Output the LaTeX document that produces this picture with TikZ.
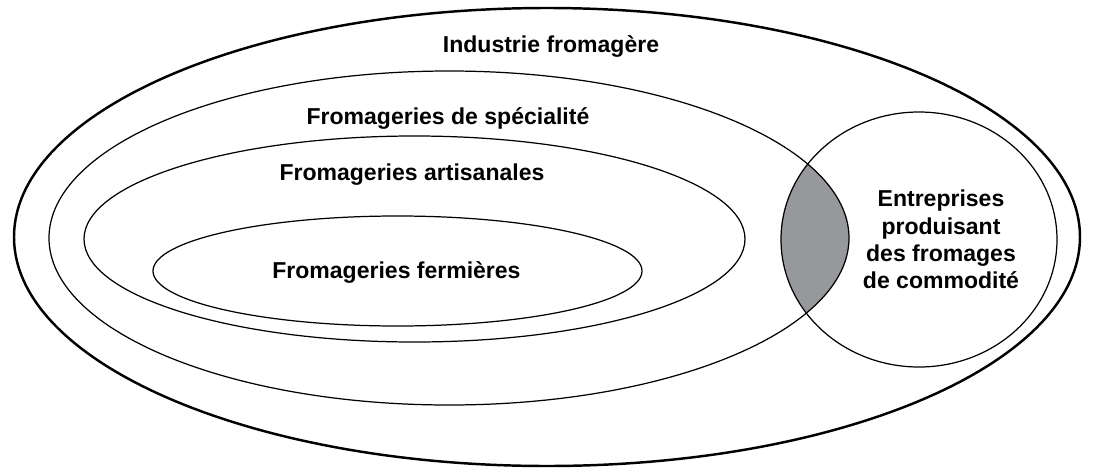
\documentclass[tikz,border=0pt]{standalone}
\usepackage{fontspec}
\setmainfont{Liberation Sans}
\usepackage{xcolor}
\usetikzlibrary{positioning}
\definecolor{lensgray}{RGB}{151,152,156}

\begin{document}
\begin{tikzpicture}[
    x=0.02cm, y=0.02cm,
    zone/.style={draw, line width=0.7pt},
    outerzone/.style={draw, line width=1.4pt},
    tag/.style={font=\fontsize{13.1}{15.5}\selectfont\bfseries, align=center, inner sep=0pt},
]
    \useasboundingbox (0,0) rectangle (1093,468);

    % overlap of speciality and commodity
    \begin{scope}
        \clip (449,230) ellipse [x radius=400, y radius=167];
        \fill[lensgray] (919,228.5) ellipse [x radius=138, y radius=127.5];
    \end{scope}

    \draw[outerzone] (547,231) ellipse [x radius=533, y radius=229];
    \draw[zone] (449,230) ellipse [x radius=400, y radius=167];
    \draw[zone] (414.5,229) ellipse [x radius=330.5, y radius=103];
    \draw[zone] (397.5,197) ellipse [x radius=244.5, y radius=55];
    \draw[zone] (919,228.5) ellipse [x radius=138, y radius=127.5];

    \node[tag, anchor=base] (industrie) at (551,415.5) {Industrie fromagère};
    \node[tag, anchor=base] (specialite) at (448,344) {Fromageries de spécialité};
    \node[tag, anchor=base] (artisanales) at (412,288) {Fromageries artisanales};
    \node[tag, anchor=base] (fermieres) at (396.5,190) {Fromageries fermières};
    \node[tag] (commodite) at (941,228.5) {Entreprises\\produisant\\des fromages\\de commodité};
\end{tikzpicture}
\end{document}
